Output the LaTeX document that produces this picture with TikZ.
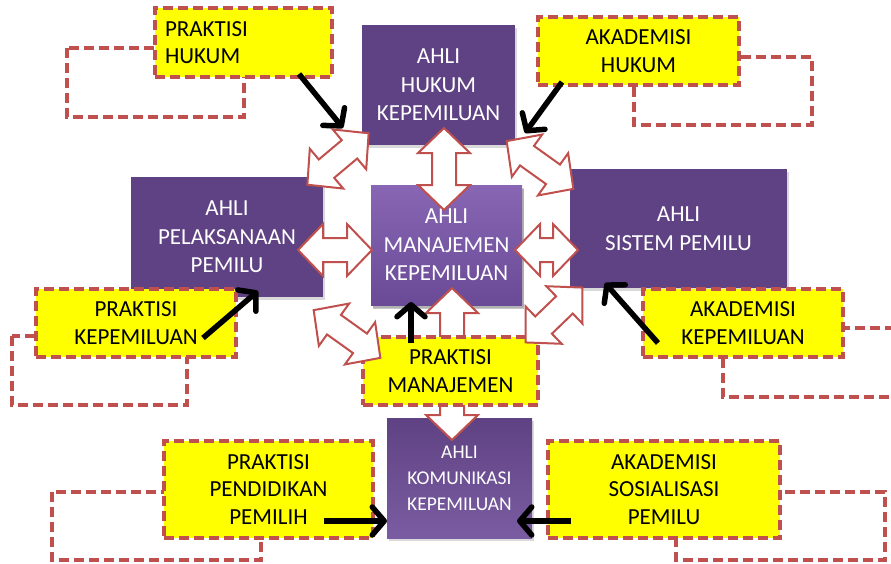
\documentclass[tikz,border=0pt]{standalone}
\usepackage{fontspec}
\setmainfont{Carlito}
\usetikzlibrary{arrows.meta,shadows}
\definecolor{ahliungu}{HTML}{5F4283}
\definecolor{ahliterang}{HTML}{8866B4}
\definecolor{ahlitua}{HTML}{6A4A96}
\definecolor{garismerah}{HTML}{C0504D}
\definecolor{kuning}{HTML}{FFFF00}
\tikzstyle{ahli}=[rectangle, fill=ahliungu, text=white, align=center, inner sep=0pt, font=\fontsize{23}{28.5}\selectfont, drop shadow={opacity=0.3, shadow xshift=1.5pt, shadow yshift=-2.5pt}]
\tikzstyle{pakar}=[rectangle, fill=kuning, draw=garismerah, line width=3.6pt, dash pattern=on 10pt off 5pt, align=center, inner sep=0pt, font=\fontsize{23}{27.5}\selectfont]
\tikzstyle{bayang}=[draw=garismerah, line width=3.6pt, dash pattern=on 10pt off 5pt]
\tikzstyle{panah}=[draw=garismerah, fill=white, line width=2pt, line join=miter]
\tikzstyle{tunjuk}=[black, line width=5.5pt, -{Straight Barb[length=12pt,width=28pt,round]}]
\newcommand{\dblPanah}[4]{%
    \begin{scope}[shift={(#1,#2)}, rotate=#3]
    \draw[panah] ({-#4/2},0) -- ({-#4/2+25},26) -- ({-#4/2+25},12) -- ({#4/2-25},12) -- ({#4/2-25},26) -- ({#4/2},0) -- ({#4/2-25},-26) -- ({#4/2-25},-12) -- ({-#4/2+25},-12) -- ({-#4/2+25},-26) -- cycle;
    \end{scope}
}
\begin{document}
\begin{tikzpicture}[x=1pt, y=-1pt]
    \useasboundingbox (0,0) rectangle (891,563);

    %ghost boxes
    \foreach \xa/\ya/\xb/\yb in {67/48/244/117, 634/57/812/125, 12/336/187/405, 723/328/905/397, 52/492/261/560, 676/492/885/560} {
    \draw[bayang] (\xa,\ya) rectangle (\xb,\yb);
    }

    %ahli
    \node[ahli, minimum width=153pt, minimum height=120pt] (hukum) at (438.5,85) {AHLI\\HUKUM\\KEPEMILUAN};
    \node[ahli, minimum width=192pt, minimum height=120pt] (pelaksanaan) at (227,237) {AHLI\\PELAKSANAAN\\PEMILU};
    \node[ahli, minimum width=217pt, minimum height=119pt] (sistem) at (678.5,228.5) {AHLI\\SISTEM PEMILU};
    \node[ahli, minimum width=151pt, minimum height=120pt, top color=ahliterang, bottom color=ahlitua, drop shadow={opacity=0.45, shadow xshift=1.5pt, shadow yshift=-3.5pt}] (manajemen) at (446.5,245) {AHLI\\MANAJEMEN\\KEPEMILUAN};
    \node[ahli, minimum width=145pt, minimum height=120pt, top color=ahliungu, bottom color=ahliterang!90!black, font=\fontsize{19.5}{26}\selectfont] (komunikasi) at (459.5,478) {AHLI\\KOMUNIKASI\\KEPEMILUAN};

    % vertical arrow under praktisi manajemen
    \dblPanah{452}{364}{90}{152}

    %praktisi and akademisi
    \node[pakar, minimum width=177pt, minimum height=69pt, text width=157pt, align=left] (ph) at (243.5,42.5) {PRAKTISI\\HUKUM};
    \node[pakar, minimum width=201pt, minimum height=68pt] (ah) at (638.5,51) {AKADEMISI\\HUKUM};
    \node[pakar, minimum width=200pt, minimum height=68pt] (pk) at (136,323) {PRAKTISI\\KEPEMILUAN};
    \node[pakar, minimum width=200pt, minimum height=68pt] (ak) at (743,323) {AKADEMISI\\KEPEMILUAN};
    \node[pakar, minimum width=175pt, minimum height=68pt] (pm) at (450.5,371) {PRAKTISI\\MANAJEMEN};
    \node[pakar, minimum width=209pt, minimum height=97pt] (pp) at (268.5,489.5) {PRAKTISI\\PENDIDIKAN\\PEMILIH};
    \node[pakar, minimum width=232pt, minimum height=97pt] (as) at (664,489.5) {AKADEMISI\\SOSIALISASI\\PEMILU};

    %double arrows
    \dblPanah{444}{169}{90}{82}
    \dblPanah{335}{250}{0}{74}
    \dblPanah{546.5}{250}{0}{63}
    \dblPanah{338}{159}{40}{80}
    \dblPanah{540}{165}{-35.6}{82}
    \dblPanah{347}{334}{-35.6}{82}
    \dblPanah{554}{315}{44}{79}

    %black arrows
    \coordinate (ph1) at (299,74);   \coordinate (ph2) at (343,128);
    \coordinate (ah1) at (562,82);   \coordinate (ah2) at (525,133);
    \coordinate (pk1) at (203,338);  \coordinate (pk2) at (258,291);
    \coordinate (pm1) at (411,343);  \coordinate (pm2) at (411,302);
    \coordinate (ak1) at (658,343);  \coordinate (ak2) at (605,283);
    \coordinate (pp1) at (324,521);  \coordinate (pp2) at (387,521);
    \coordinate (as1) at (571,521);  \coordinate (as2) at (517,521);
    \foreach \n in {ph,ah,pk,pm,ak,pp,as} {
    \draw[tunjuk] (\n1) -- (\n2);
    }

\end{tikzpicture}
\end{document}
